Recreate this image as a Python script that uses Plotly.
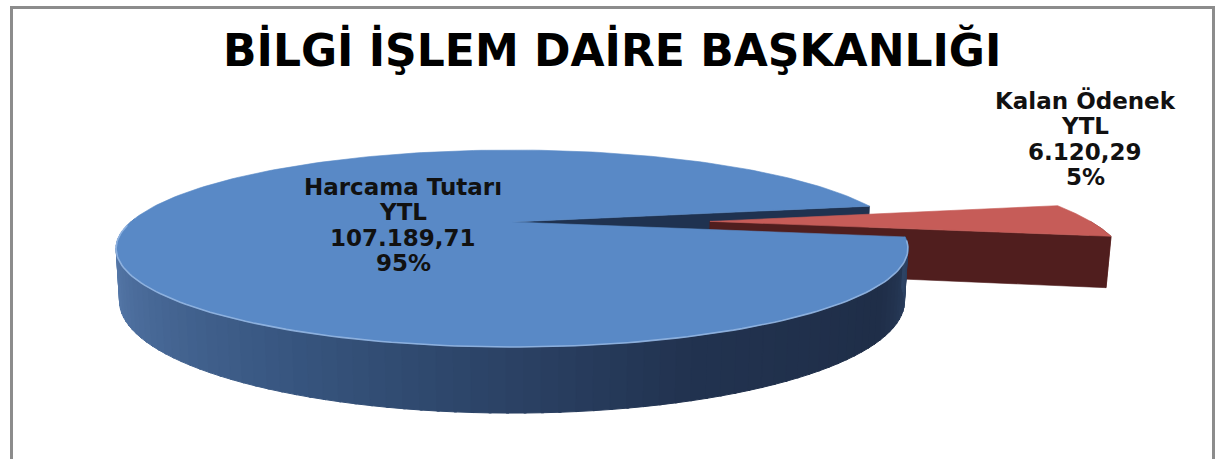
import numpy as np
import plotly.graph_objects as go

# ---------------- data ----------------
categories = ["Harcama Tutarı", "Kalan Ödenek"]
values = [107189.71, 6120.29]
currency = "YTL"
title_text = "BİLGİ İŞLEM DAİRE BAŞKANLIĞI"

# ---------------- style / geometry ----------------
W, H = 1219, 459
CX, CY = 512, 222          # projected pie centre (px)
FX, FY, D = 1380.0, 1448.0, 3.619   # perspective focal lengths / camera distance
ALPHA = np.radians(13.2)   # tilt
DEPTH = 0.128              # pie thickness (radius units)
START_DEG = -9.0           # start angle of the first drawn slice (Kalan)
PULL = {"Kalan Ödenek": 0.52, "Harcama Tutarı": 0.0}
ca, sa = np.cos(ALPHA), np.sin(ALPHA)

TOP_COL = {"Harcama Tutarı": "rgb(89,137,198)", "Kalan Ödenek": "rgb(198,92,88)"}
CUT_COL = {"Harcama Tutarı": "rgb(31,50,80)", "Kalan Ödenek": "rgb(80,30,30)"}
SIDE_COL_RED = "rgb(112,44,42)"
BLUE_SIDE_STOPS = [(180, (102, 138, 188)), (205, (80, 114, 162)), (245, (55, 85, 127)),
                   (290, (34, 51, 80)), (325, (31, 46, 72)), (352, (48, 70, 104))]


def proj(X, Y, Z):
    X, Y, Z = np.asarray(X, float), np.asarray(Y, float), np.asarray(Z, float)
    w = Y * ca - Z * sa
    v = Y * sa + Z * ca
    return CX + FX * X / (D + w), CY - FY * v / (D + w)


def tr_num(v):
    s = f"{v:,.2f}"
    return s.replace(",", "#").replace(".", ",").replace("#", ".")


total = sum(values)
# slice angles (counter-clockwise), Kalan first starting at START_DEG
order = ["Kalan Ödenek", "Harcama Tutarı"]
slices = {}
a = START_DEG
for name in order:
    v = values[categories.index(name)]
    span = v / total * 360.0
    t0, t1 = a, a + span
    mid = np.radians((t0 + t1) / 2)
    p = PULL[name]
    slices[name] = dict(t0=t0, t1=t1, ox=p * np.cos(mid), oy=p * np.sin(mid), value=v)
    a = t1


def top_poly(sl, n=240):
    t = np.radians(np.linspace(sl["t0"], sl["t1"], n))
    X = np.concatenate([[sl["ox"]], sl["ox"] + np.cos(t), [sl["ox"]]])
    Y = np.concatenate([[sl["oy"]], sl["oy"] + np.sin(t), [sl["oy"]]])
    return proj(X, Y, np.zeros_like(X))


def cut_poly(sl, tdeg):
    t = np.radians(tdeg)
    X = [sl["ox"], sl["ox"] + np.cos(t), sl["ox"] + np.cos(t), sl["ox"], sl["ox"]]
    Y = [sl["oy"], sl["oy"] + np.sin(t), sl["oy"] + np.sin(t), sl["oy"], sl["oy"]]
    Z = [0, 0, -DEPTH, -DEPTH, 0]
    return proj(X, Y, Z)


def side_poly(sl, ta, tb, n=20):
    t = np.radians(np.linspace(ta, tb, n))
    X = sl["ox"] + np.cos(t)
    Y = sl["oy"] + np.sin(t)
    XX = np.concatenate([X, X[::-1], X[:1]])
    YY = np.concatenate([Y, Y[::-1], Y[:1]])
    ZZ = np.concatenate([np.zeros(n), -DEPTH * np.ones(n), [0]])
    return proj(XX, YY, ZZ)


def interp_col(tdeg):
    for (a0, c0), (a1, c1) in zip(BLUE_SIDE_STOPS[:-1], BLUE_SIDE_STOPS[1:]):
        if a0 <= tdeg <= a1:
            f = (tdeg - a0) / (a1 - a0)
            return "rgb(%d,%d,%d)" % tuple(int(c0[k] + f * (c1[k] - c0[k])) for k in range(3))
    return "rgb(%d,%d,%d)" % BLUE_SIDE_STOPS[-1][1]


fig = go.Figure()


def add_poly(xy, col, lw=0.6):
    x, y = xy
    fig.add_trace(go.Scatter(x=x, y=y, mode="lines", fill="toself", fillcolor=col,
                             line=dict(color=col, width=lw), hoverinfo="skip",
                             showlegend=False))


blue = slices["Harcama Tutarı"]
red = slices["Kalan Ödenek"]

# 1. blue cut face at its start angle
add_poly(cut_poly(blue, blue["t0"]), CUT_COL["Harcama Tutarı"])
# 2. red outer side (front part)
add_poly(side_poly(red, red["t0"], min(red["t1"], 0.0)), SIDE_COL_RED)
# 3. red cut face at start angle
add_poly(cut_poly(red, red["t0"]), CUT_COL["Kalan Ödenek"])
# 4. red top face
add_poly(top_poly(red), TOP_COL["Kalan Ödenek"])
# 5. blue outer side, gradient strips
b0, b1 = max(blue["t0"], 178.0), min(blue["t1"], 360.0)
edges = np.linspace(b0, b1, 90)
for ta, tb in zip(edges[:-1], edges[1:]):
    col = interp_col(max((ta + tb) / 2, 180))
    add_poly(side_poly(blue, ta, tb + 0.3, n=4), col, lw=1)
# 6. blue top face
add_poly(top_poly(blue), TOP_COL["Harcama Tutarı"])
# 7. highlight along blue front rim
t = np.radians(np.linspace(182, 349, 140))
hx, hy = proj(blue["ox"] + np.cos(t), blue["oy"] + np.sin(t), np.zeros_like(t))
fig.add_trace(go.Scatter(x=hx, y=hy, mode="lines", line=dict(color="rgba(150,185,228,0.85)", width=1.6),
                         hoverinfo="skip", showlegend=False))

# ---------------- labels ----------------
LABEL_POS = {"Harcama Tutarı": (403, 225), "Kalan Ödenek": (1085, 139)}
LINE_GAP = 25.5
font_lbl = dict(family="DejaVu Sans", size=23, color="#111111")
for name in categories:
    v = values[categories.index(name)]
    pct = round(v / total * 100)
    lines = [name, currency, tr_num(v), f"{pct}%"]
    x, y = LABEL_POS[name]
    for k, ln in enumerate(lines):
        fig.add_annotation(x=x, y=y + (k - 1.5) * LINE_GAP, xref="x", yref="y",
                           text=f"<b>{ln}</b>", showarrow=False, font=font_lbl,
                           xanchor="center", yanchor="middle")

fig.add_annotation(x=612, y=50, xref="x", yref="y", text=f"<b>{title_text}</b>", showarrow=False,
                   font=dict(family="DejaVu Sans", size=44, color="#000000"),
                   xanchor="center", yanchor="middle")

fig.add_shape(type="rect", xref="x", yref="y", x0=11.5, x1=1213.5, y0=7.5, y1=480,
              line=dict(color="#8c8c8c", width=3), fillcolor="rgba(0,0,0,0)", layer="above")

fig.update_layout(
    width=W, height=H, margin=dict(l=0, r=0, t=0, b=0),
    paper_bgcolor="white", plot_bgcolor="white", showlegend=False,
    xaxis=dict(range=[0, W], visible=False, fixedrange=True),
    yaxis=dict(range=[H, 0], visible=False, fixedrange=True),
)

fig.write_html("out.html", config={"displayModeBar": False},
               post_script="document.body.style.margin='0px';")
